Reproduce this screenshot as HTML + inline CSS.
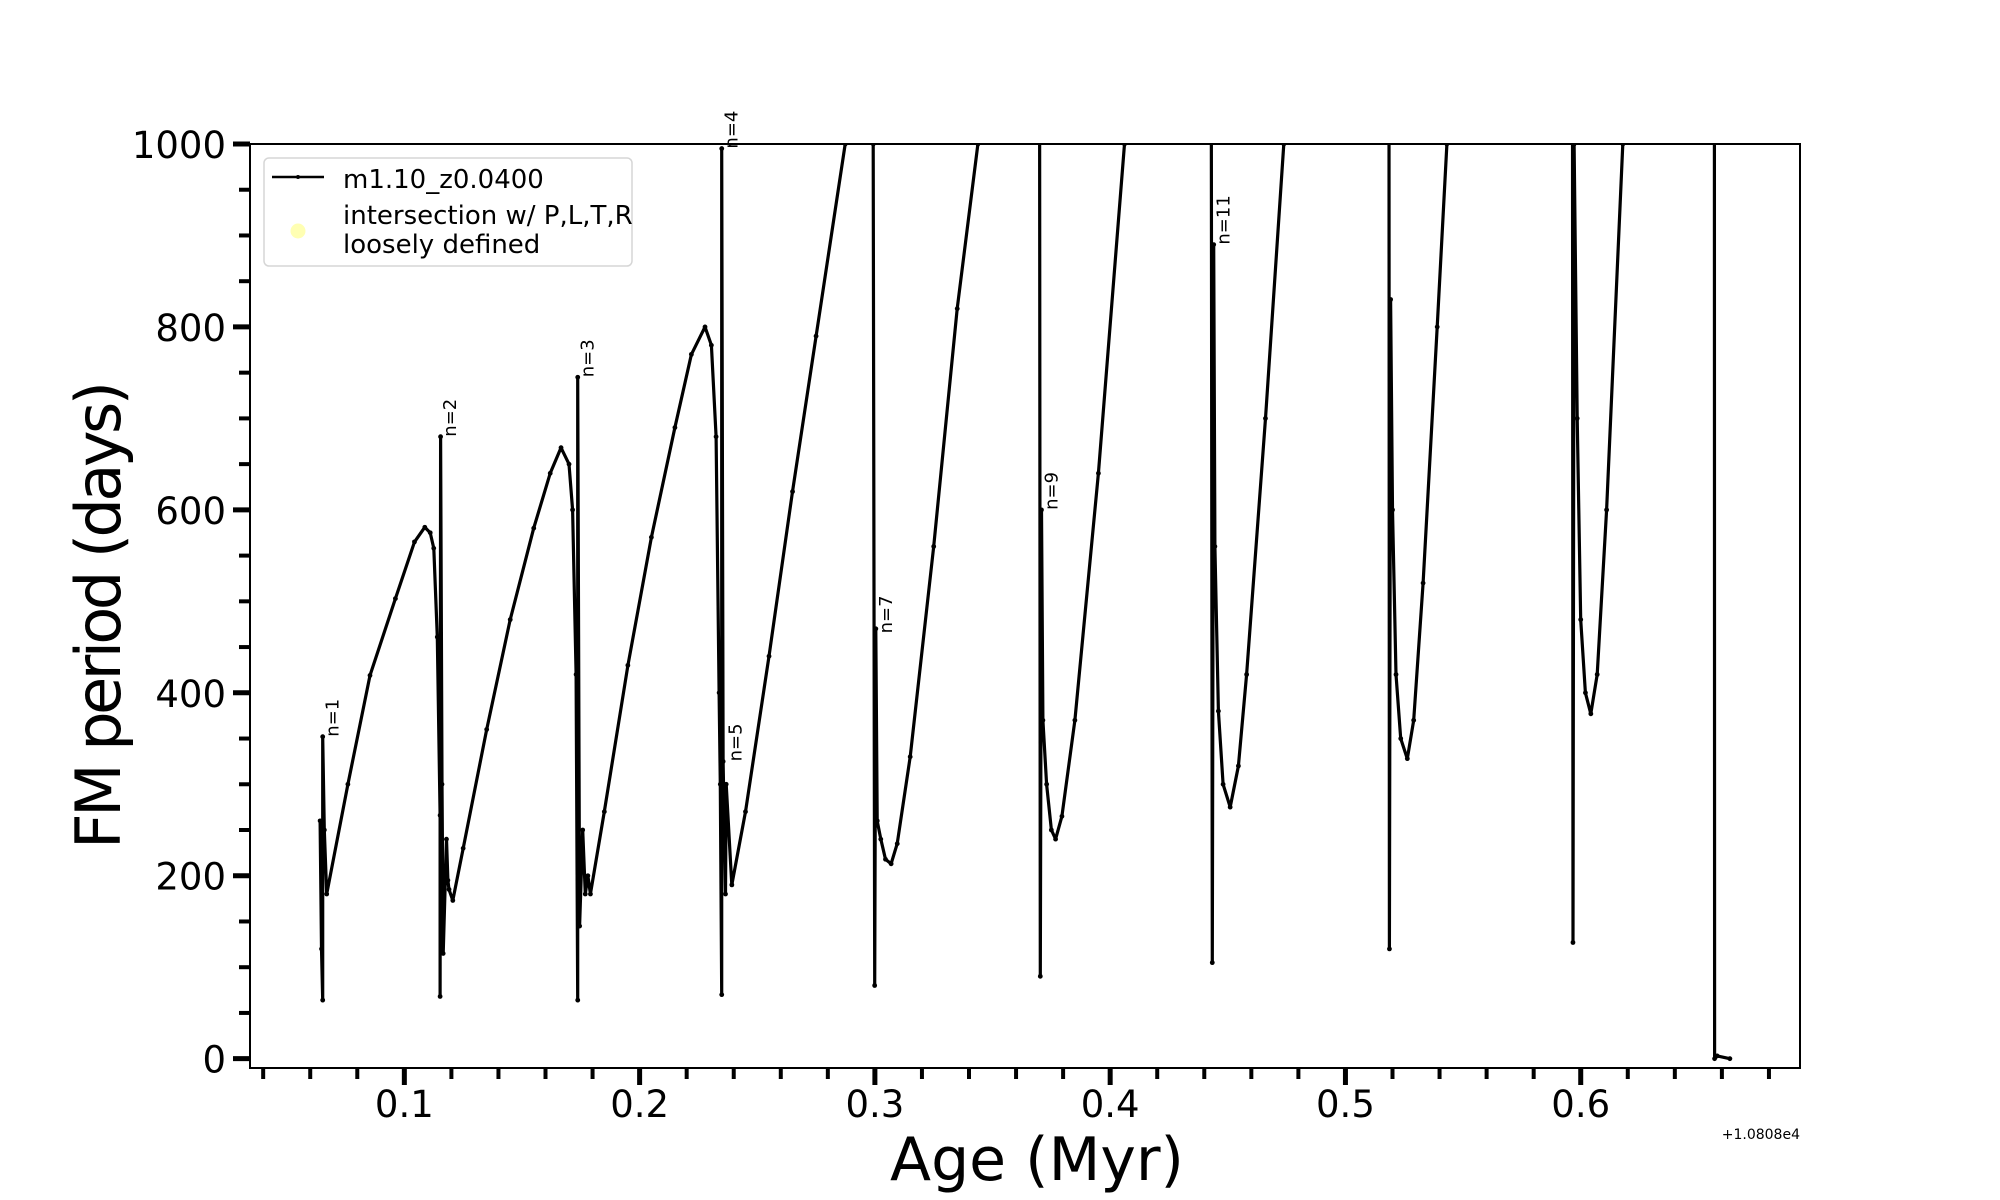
<!DOCTYPE html>
<html><head><meta charset="utf-8"><style>
html,body{margin:0;padding:0;background:#fff}
svg{display:block;font-family:"DejaVu Sans","Liberation Sans",sans-serif}
</style></head><body>
<svg id="chart" width="2000" height="1200" viewBox="0 0 2000 1200">
<defs><clipPath id="plotclip"><rect x="250" y="144" width="1550" height="924"/></clipPath></defs>
<rect x="0" y="0" width="2000" height="1200" fill="#fff"/>
<g id="ticks"></g>
<g id="series" clip-path="url(#plotclip)"></g>
<g id="labels"></g>
<rect x="250" y="144" width="1550" height="924" fill="none" stroke="#000" stroke-width="2"/>
<text x="1800" y="1139" font-size="14" text-anchor="end">+1.0808e4</text>
<text x="1037" y="1180" font-size="60" text-anchor="middle">Age (Myr)</text>
<text transform="translate(120,615) rotate(-90)" font-size="62" text-anchor="middle" textLength="468">FM period (days)</text>
<g>
<rect x="264" y="158" width="368" height="108" rx="5" fill="#fff" fill-opacity="0.8" stroke="#d6d6d6" stroke-width="1.5"/>
<line x1="272" y1="177" x2="324" y2="177" stroke="#000" stroke-width="2.5"/>
<circle cx="298" cy="177" r="2" fill="#000"/>
<text x="343" y="188" font-size="26">m1.10_z0.0400</text>
<circle cx="298" cy="231" r="7.5" fill="#ffffb3"/>
<text x="343" y="224" font-size="26">intersection w/ P,L,T,R</text>
<text x="343" y="253" font-size="26">loosely defined</text>
</g>
</svg>
<script>
// data (age offset from 1.0808e4 Myr, FM period in days)
const ages = [0.0642,0.0648,0.0653,0.0653,0.0660,0.0670,0.0760,0.0854,0.0962,0.1043,0.1087,0.1110,0.1125,0.1140,0.1152,0.1152,0.1154,0.1160,0.1165,0.1179,0.1185,0.1190,0.1206,0.1250,0.1350,0.1450,0.1550,0.1620,0.1666,0.1700,0.1715,0.1730,0.1737,0.1737,0.1745,0.1758,0.1769,0.1780,0.1791,0.1850,0.1950,0.2050,0.2150,0.2220,0.2278,0.2305,0.2325,0.2338,0.2343,0.2349,0.2349,0.2355,0.2365,0.2368,0.2392,0.2450,0.2550,0.2650,0.2750,0.2874,0.2890,0.2990,0.2993,0.2999,0.3004,0.3010,0.3025,0.3045,0.3069,0.3095,0.3150,0.3250,0.3350,0.3438,0.3450,0.3700,0.3703,0.3708,0.3714,0.3730,0.3750,0.3768,0.3795,0.3850,0.3950,0.4061,0.4070,0.4430,0.4434,0.4440,0.4445,0.4460,0.4480,0.4510,0.4545,0.4580,0.4660,0.4738,0.4750,0.5185,0.5187,0.5192,0.5200,0.5215,0.5235,0.5263,0.5290,0.5330,0.5390,0.5431,0.5440,0.5965,0.5967,0.5972,0.5985,0.6000,0.6020,0.6043,0.6070,0.6110,0.6179,0.6190,0.6568,0.6569,0.6580,0.6634];
const periods = [260,120,64,352,250,180,300,419,503,565,581,575,558,461,266,68,680,300,115,240,195,185,173,230,360,480,580,640,668,650,600,420,64,745,145,250,180,200,180,270,430,570,690,770,800,780,680,400,300,70,995,325,180,300,190,270,440,620,790,1000,1050,1050,1000,80,470,260,240,218,213,235,330,560,820,1000,1050,1050,90,600,370,300,250,240,265,370,640,1000,1050,1050,105,890,560,380,300,275,320,420,700,1000,1050,1050,120,830,600,420,350,328,370,520,800,1000,1050,1050,127,1000,700,480,400,377,420,600,1000,1050,1050,0,3,0];
const xTickMajor = [0.1,0.2,0.3,0.4,0.5,0.6];
const xTickLabels = ["0.1","0.2","0.3","0.4","0.5","0.6"];
const yTickMajor = [0,200,400,600,800,1000];
const yTickLabels = ["0","200","400","600","800","1000"];
const modeNames = ["n=1","n=2","n=3","n=4","n=5","n=7","n=9","n=11"];
const modeAges = [0.0653,0.1152,0.1737,0.2349,0.2365,0.3004,0.3708,0.4440];
const modePeriods = [352,680,745,995,325,465,600,890];

const NS="http://www.w3.org/2000/svg";
const X0=250,X1=1800,Y0=1068,Y1=144;
const XMIN=0.0344,XMAX=0.6932,YMIN=-10.2,YMAX=1000;
function sx(v){return X0+(v-XMIN)/(XMAX-XMIN)*(X1-X0);}
function sy(v){return Y0-(v-YMIN)/(YMAX-YMIN)*(Y0-Y1);}
function mk(tag,attrs,parent){const e=document.createElementNS(NS,tag);for(const k in attrs)e.setAttribute(k,attrs[k]);parent.appendChild(e);return e;}

const tg=document.getElementById('ticks');
for(let i=2;i<=34;i++){const v=i*0.02;if(v<XMIN||v>XMAX)continue;const major=Math.abs(v*10-Math.round(v*10))<1e-6;const x=sx(v);
 const t=mk('line',{x1:x,y1:Y0,x2:x,y2:Y0+(major?17:11),stroke:'#000','stroke-width':major?5:4},tg);
 
 }
xTickMajor.forEach((v,i)=>{const t=mk('text',{x:sx(v),y:1117,'font-size':37,'text-anchor':'middle'},tg);t.textContent=xTickLabels[i];
 
 });
for(let v=0;v<=1000;v+=50){const major=v%200===0;const y=sy(v);
 const t=mk('line',{x1:major?X0-17:X0-11,y1:y,x2:X0,y2:y,stroke:'#000','stroke-width':major?5:4},tg);
 
 }
yTickMajor.forEach((v,i)=>{const t=mk('text',{x:226,y:sy(v)+14,'font-size':37,'text-anchor':'end'},tg);t.textContent=yTickLabels[i];
 
 });

const sg=document.getElementById('series');
const pts=ages.map((a,i)=>sx(a).toFixed(1)+','+sy(periods[i]).toFixed(1)).join(' ');
const pl=mk('polyline',{points:pts,fill:'none',stroke:'#000','stroke-width':3.2,'stroke-linejoin':'round'},sg);


ages.forEach((a,i)=>{const c=mk('circle',{cx:sx(a),cy:sy(periods[i]),r:2.4,fill:'#000'},sg);
 
 });

const lg=document.getElementById('labels');
modeNames.forEach((n,i)=>{const x=sx(modeAges[i])+16,y=sy(modePeriods[i]);
 const t=mk('text',{transform:`translate(${x},${y}) rotate(-90)`,'font-size':18},lg);t.textContent=n;
 
 });
</script>
</body></html>
